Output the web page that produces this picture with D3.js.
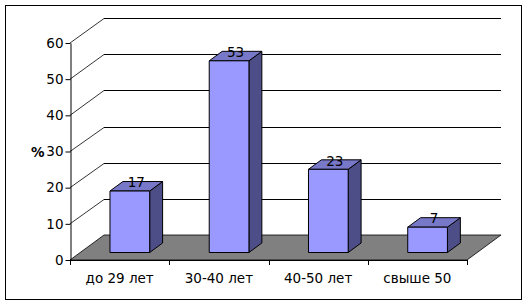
<!DOCTYPE html>
<html>
<head>
<meta charset="utf-8">
<script src="https://cdn.jsdelivr.net/npm/d3@7"></script>
<style>
  body { margin: 0; background: #fff; }
  text { font-family: "DejaVu Sans", Verdana, sans-serif; font-size: 13.5px; fill: #000; }
</style>
</head>
<body>
<svg id="chart" width="528" height="305"></svg>
<script>
const categories = ["до 29 лет", "30-40 лет", "40-50 лет", "свыше 50"];
const values = [17, 53, 23, 7];
const yTicks = [0, 10, 20, 30, 40, 50, 60];
const yTitle = "%";

const svg = d3.select("#chart"),
  x0 = 70, x1 = 467,
  y0 = 260, yTop = 43,
  dx = 34, dy = -25,        // depth of the plot
  f0 = 0.3, f1 = 0.68;      // bar front/back as fraction of depth

const x = d3.scaleBand(categories, [x0, x1]).paddingInner(0.6).paddingOuter(0.3);
const band = d3.scaleBand(categories, [x0, x1]);
const y = d3.scaleLinear([0, 60], [y0, yTop]);

// outer frame
svg.append("rect")
  .attr("x", 5.5).attr("y", 5.5)
  .attr("width", 516).attr("height", 294)
  .attr("fill", "none").attr("stroke", "#000");

// back wall gridlines
svg.append("g").selectAll("line")
  .data(yTicks.filter(d => d > 0))
  .join("line")
    .attr("x1", x0 + dx).attr("x2", x1 + dx)
    .attr("y1", d => Math.round(y(d) + dy) + 0.5)
    .attr("y2", d => Math.round(y(d) + dy) + 0.5)
    .attr("stroke", "#000");

// left wall diagonals
svg.append("g").selectAll("line")
  .data(yTicks.filter(d => d > 0))
  .join("line")
    .attr("x1", x0).attr("y1", d => y(d))
    .attr("x2", x0 + dx).attr("y2", d => Math.round(y(d) + dy) + 0.5)
    .attr("stroke", "#000").attr("stroke-width", 0.8);

// floor
svg.append("path")
  .attr("d", d3.line()([[x0, y0], [x1, y0], [x1 + dx, y0 + dy], [x0 + dx, y0 + dy]]) + "Z")
  .attr("fill", "#808080")
  .attr("stroke", "#000").attr("stroke-width", 0.8);

// bars
const bw = x.bandwidth(),
  ox = f0 * dx, oy = f0 * dy,
  bx = (f1 - f0) * dx, by = (f1 - f0) * dy;

const bars = svg.append("g").selectAll("g")
  .data(values)
  .join("g")
    .attr("stroke", "#000").attr("stroke-width", 1).attr("stroke-linejoin", "round");

bars.append("path")   // side
  .attr("fill", "#4d4d87")
  .attr("d", (d, i) => {
    const l = x(categories[i]) + ox + bw, t = y(d) + oy, b = y(0) + oy;
    return d3.line()([[l, t], [l + bx, t + by], [l + bx, b + by], [l, b]]) + "Z";
  });

bars.append("path")   // top
  .attr("fill", "#7878c8")
  .attr("d", (d, i) => {
    const l = x(categories[i]) + ox, t = y(d) + oy;
    return d3.line()([[l, t], [l + bx, t + by], [l + bw + bx, t + by], [l + bw, t]]) + "Z";
  });

bars.append("rect")   // front
  .attr("fill", "#9999ff")
  .attr("x", (d, i) => x(categories[i]) + ox)
  .attr("y", d => y(d) + oy)
  .attr("width", bw)
  .attr("height", d => y(0) - y(d));

// value labels
svg.append("g").selectAll("text")
  .data(values)
  .join("text")
    .attr("text-anchor", "middle")
    .attr("x", (d, i) => x(categories[i]) + ox + bw / 2 + bx / 2)
    .attr("y", d => y(d) + oy + by / 2 + 1)
    .text(d => d);

// y axis
const yAxis = svg.append("g")
  .attr("transform", `translate(${x0 + 0.5},0)`)
  .call(d3.axisLeft(y).tickValues(yTicks).tickSizeOuter(0).tickSizeInner(5).tickPadding(2));
yAxis.attr("font-size", null).attr("font-family", null);
yAxis.select(".domain").attr("stroke", "#000");
yAxis.selectAll(".tick line").attr("stroke", "#000");

svg.append("text")
  .attr("x", 31).attr("y", y(30) + 5)
  .attr("font-size", "13px")
  .attr("font-weight", "bold")
  .text(yTitle);

// x axis
svg.append("line")
  .attr("x1", x0).attr("x2", x1)
  .attr("y1", y0 + 0.5).attr("y2", y0 + 0.5)
  .attr("stroke", "#000");

svg.append("g").selectAll("line")
  .data(categories.map(c => band(c)).concat([x1]))
  .join("line")
    .attr("x1", d => Math.round(d) + 0.5).attr("x2", d => Math.round(d) + 0.5)
    .attr("y1", y0).attr("y2", y0 + 5)
    .attr("stroke", "#000");

svg.append("g").selectAll("text")
  .data(categories)
  .join("text")
    .attr("text-anchor", "middle")
    .attr("x", d => band(d) + band.bandwidth() / 2)
    .attr("y", 283)
    .text(d => d);
</script>
</body>
</html>
